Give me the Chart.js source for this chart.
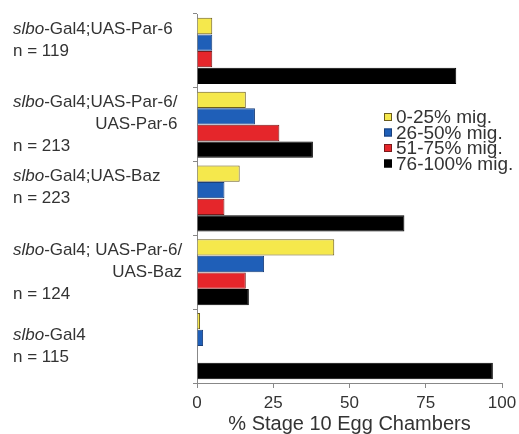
<!DOCTYPE html>
<html>
<head>
<meta charset="utf-8">
<script src="https://cdn.jsdelivr.net/npm/chart.js@4"></script>
<style>
  html, body { margin: 0; padding: 0; background: #fff; }
  #wrap { width: 519px; height: 434px; }
</style>
</head>
<body>
<div id="wrap"><canvas id="grafico" width="519" height="434"></canvas></div>
<script>
// genotypes, one row each (top to bottom)
const genotypes = ['Par-6', 'Par-6/Par-6', 'Baz', 'Par-6/Baz', 'Gal4'];
// label lines per genotype ('' keeps an empty slot)
const labelLines = [
  ['slbo-Gal4;UAS-Par-6', 'n = 119', ''],
  ['slbo-Gal4;UAS-Par-6/', 'UAS-Par-6', 'n = 213'],
  ['slbo-Gal4;UAS-Baz', 'n = 223', ''],
  ['slbo-Gal4; UAS-Par-6/', 'UAS-Baz', 'n = 124'],
  ['slbo-Gal4', 'n = 115']
];

const seriesNames = ['0-25% mig.', '26-50% mig.', '51-75% mig.', '76-100% mig.'];
const mig0_25   = [5, 16, 14, 45, 1];
const mig26_50  = [5, 19, 9, 22, 2];
const mig51_75  = [5, 27, 9, 16, 0];
const mig76_100 = [85, 38, 68, 17, 97];

const xTicks = [0, 25, 50, 75, 100];

const corTexto = '#333';
const fonte = '"Liberation Sans", Arial, sans-serif';

// rotulos das linhas, com "slbo" em italico
const pluginRotulos = {
  id: 'rotulos',
  afterDraw(chart) {
    const { ctx, scales } = chart;
    const y = scales.y;
    const x0 = 13;
    const passo = 22;
    ctx.save();
    ctx.fillStyle = corTexto;
    ctx.textBaseline = 'middle';
    labelLines.forEach((linhas, i) => {
      const centro = y.getPixelForValue(i);
      const topo = centro - (linhas.length - 1) * passo / 2;
      ctx.font = '17px ' + fonte;
      let fimPrimeira = x0;
      linhas.forEach((txt, j) => {
        if (!txt) return;
        const yy = topo + j * passo;
        if (j === 0 && txt.startsWith('slbo')) {
          ctx.font = 'italic 17px ' + fonte;
          ctx.textAlign = 'left';
          ctx.fillText('slbo', x0, yy);
          const w = ctx.measureText('slbo').width;
          ctx.font = '17px ' + fonte;
          const resto = txt.slice(4);
          ctx.fillText(resto, x0 + w, yy);
          fimPrimeira = x0 + w + ctx.measureText(resto).width;
        } else if (j > 0 && !txt.startsWith('n =')) {
          ctx.textAlign = 'right';
          ctx.fillText(txt, fimPrimeira, yy);
        } else {
          ctx.textAlign = 'left';
          ctx.fillText(txt, x0, yy);
        }
      });
    });
    ctx.restore();
  }
};

// legenda dentro da area do grafico
const pluginLegenda = {
  id: 'legendaInterna',
  afterDraw(chart) {
    const { ctx, chartArea } = chart;
    const lx = 384;
    const ly = chartArea.top + 103;
    ctx.save();
    ctx.font = '19px ' + fonte;
    ctx.textBaseline = 'middle';
    ctx.textAlign = 'left';
    chart.data.datasets.forEach((ds, i) => {
      const yy = ly + i * 15.5;
      ctx.fillStyle = ds.backgroundColor;
      ctx.fillRect(lx, yy - 4, 8, 8);
      ctx.strokeStyle = ds.borderColor;
      ctx.lineWidth = 1;
      ctx.strokeRect(lx + 0.5, yy - 3.5, 7, 7);
      ctx.fillStyle = corTexto;
      ctx.fillText(ds.label, lx + 12, yy + 1);
    });
    ctx.restore();
  }
};

const cores = ['#f5e84c', '#1f5fb8', '#e5262b', '#000000'];
const bordas = ['#6b5d1c', '#1a3f7a', '#7a1a1a', '#000000'];
const dados = [mig0_25, mig26_50, mig51_75, mig76_100];

new Chart(document.getElementById('grafico'), {
  type: 'bar',
  data: {
    labels: genotypes,
    datasets: seriesNames.map((nome, i) => ({
      label: nome,
      data: dados[i],
      backgroundColor: cores[i],
      borderColor: bordas[i],
      borderWidth: 1,
      categoryPercentage: 0.9,
      barPercentage: 0.98
    }))
  },
  options: {
    indexAxis: 'y',
    responsive: false,
    animation: false,
    layout: { padding: { top: 14, right: 0, left: 0, bottom: 0 } },
    plugins: {
      legend: { display: false },
      tooltip: { enabled: false }
    },
    scales: {
      x: {
        min: 0,
        max: 100,
        afterBuildTicks: (s) => { s.ticks = xTicks.map(v => ({ value: v })); },
        afterFit: (s) => { s.height = 51; s.paddingRight = 17; },
        ticks: {
          color: corTexto,
          font: { family: fonte, size: 17 },
          padding: 5
        },
        grid: { drawOnChartArea: false, tickLength: 5, color: '#888' },
        border: { color: '#888' },
        title: {
          display: true,
          text: '% Stage 10 Egg Chambers',
          color: corTexto,
          font: { family: fonte, size: 20 },
          padding: { top: 0, bottom: -2 }
        }
      },
      y: {
        afterFit: (s) => { s.width = 197; },
        ticks: { display: false },
        grid: { offset: true, drawOnChartArea: false, tickLength: 4, color: '#888' },
        border: { color: '#888' }
      }
    }
  },
  plugins: [pluginRotulos, pluginLegenda]
});
</script>
</body>
</html>
